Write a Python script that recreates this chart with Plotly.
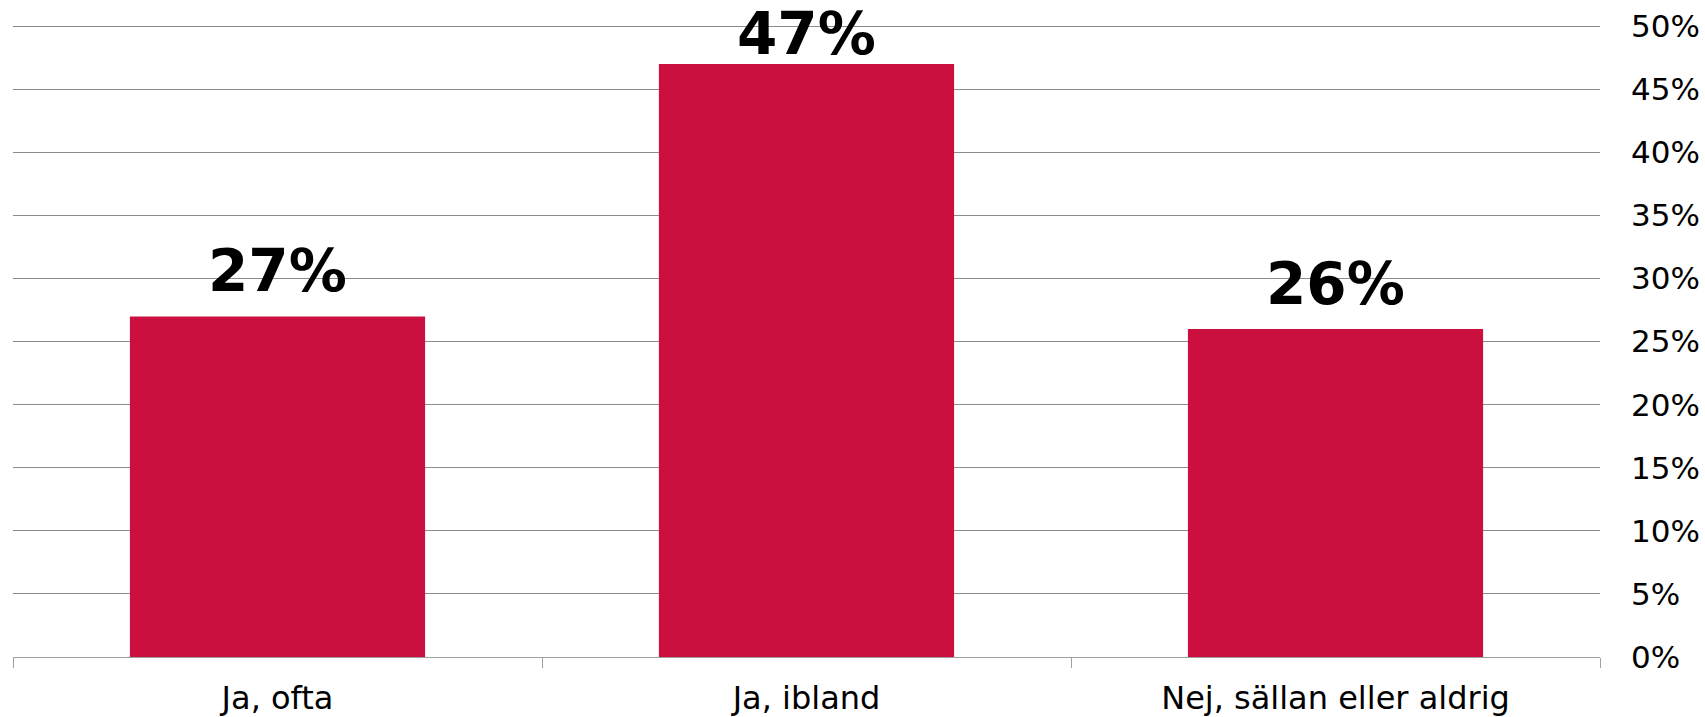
import plotly.graph_objects as go

categories = ["Ja, ofta", "Ja, ibland", "Nej, sällan eller aldrig"]
values = [0.27, 0.47, 0.26]
value_labels = ["27%", "47%", "26%"]
y_ticks = [0, 0.05, 0.10, 0.15, 0.20, 0.25, 0.30, 0.35, 0.40, 0.45, 0.50]
y_tick_labels = ["0%", "5%", "10%", "15%", "20%", "25%", "30%", "35%", "40%", "45%", "50%"]

BAR_COLOR = "#CB103F"
FONT = "DejaVu Sans"
# vertical pixel offset of each value label (the tallest one is pulled down to stay inside the chart)
label_yshift = [10, -5, 10]

fig = go.Figure()
fig.add_trace(go.Bar(
    x=categories,
    y=values,
    marker=dict(color=BAR_COLOR, line=dict(width=0)),
    width=0.558,
    hoverinfo="skip",
))

for c, v, t, ys in zip(categories, values, value_labels, label_yshift):
    fig.add_annotation(
        x=c, y=v, text="<b>" + t + "</b>", showarrow=False,
        xref="x", yref="y", yanchor="bottom", yshift=ys, borderpad=0,
        font=dict(family=FONT, size=58, color="#000000"),
    )

fig.update_layout(
    width=1705, height=717,
    margin=dict(l=13, r=105, t=25, b=60, autoexpand=False),
    paper_bgcolor="white", plot_bgcolor="white",
    showlegend=False,
    font=dict(family=FONT, size=32, color="#000000"),
    xaxis=dict(
        automargin=False,
        showline=True, linecolor="#a0a0a0", linewidth=1,
        ticks="outside", ticklen=10, tickcolor="#a0a0a0", tickwidth=1,
        tickson="boundaries", showgrid=False,
        tickfont=dict(family=FONT, size=32, color="#000000"),
        ticklabelstandoff=13,
    ),
    yaxis=dict(
        automargin=False,
        side="right", range=[0, 0.501],
        tickvals=y_ticks, ticktext=y_tick_labels,
        showgrid=True, gridcolor="#8c8c8c", gridwidth=1,
        zeroline=False, showline=False, ticks="",
        tickfont=dict(family=FONT, size=31, color="#000000"),
        ticklabelstandoff=30,
    ),
)

fig.write_html(
    "out.html",
    config={"displayModeBar": False},
    post_script="document.body.style.margin='0';document.body.style.overflow='hidden';",
)
